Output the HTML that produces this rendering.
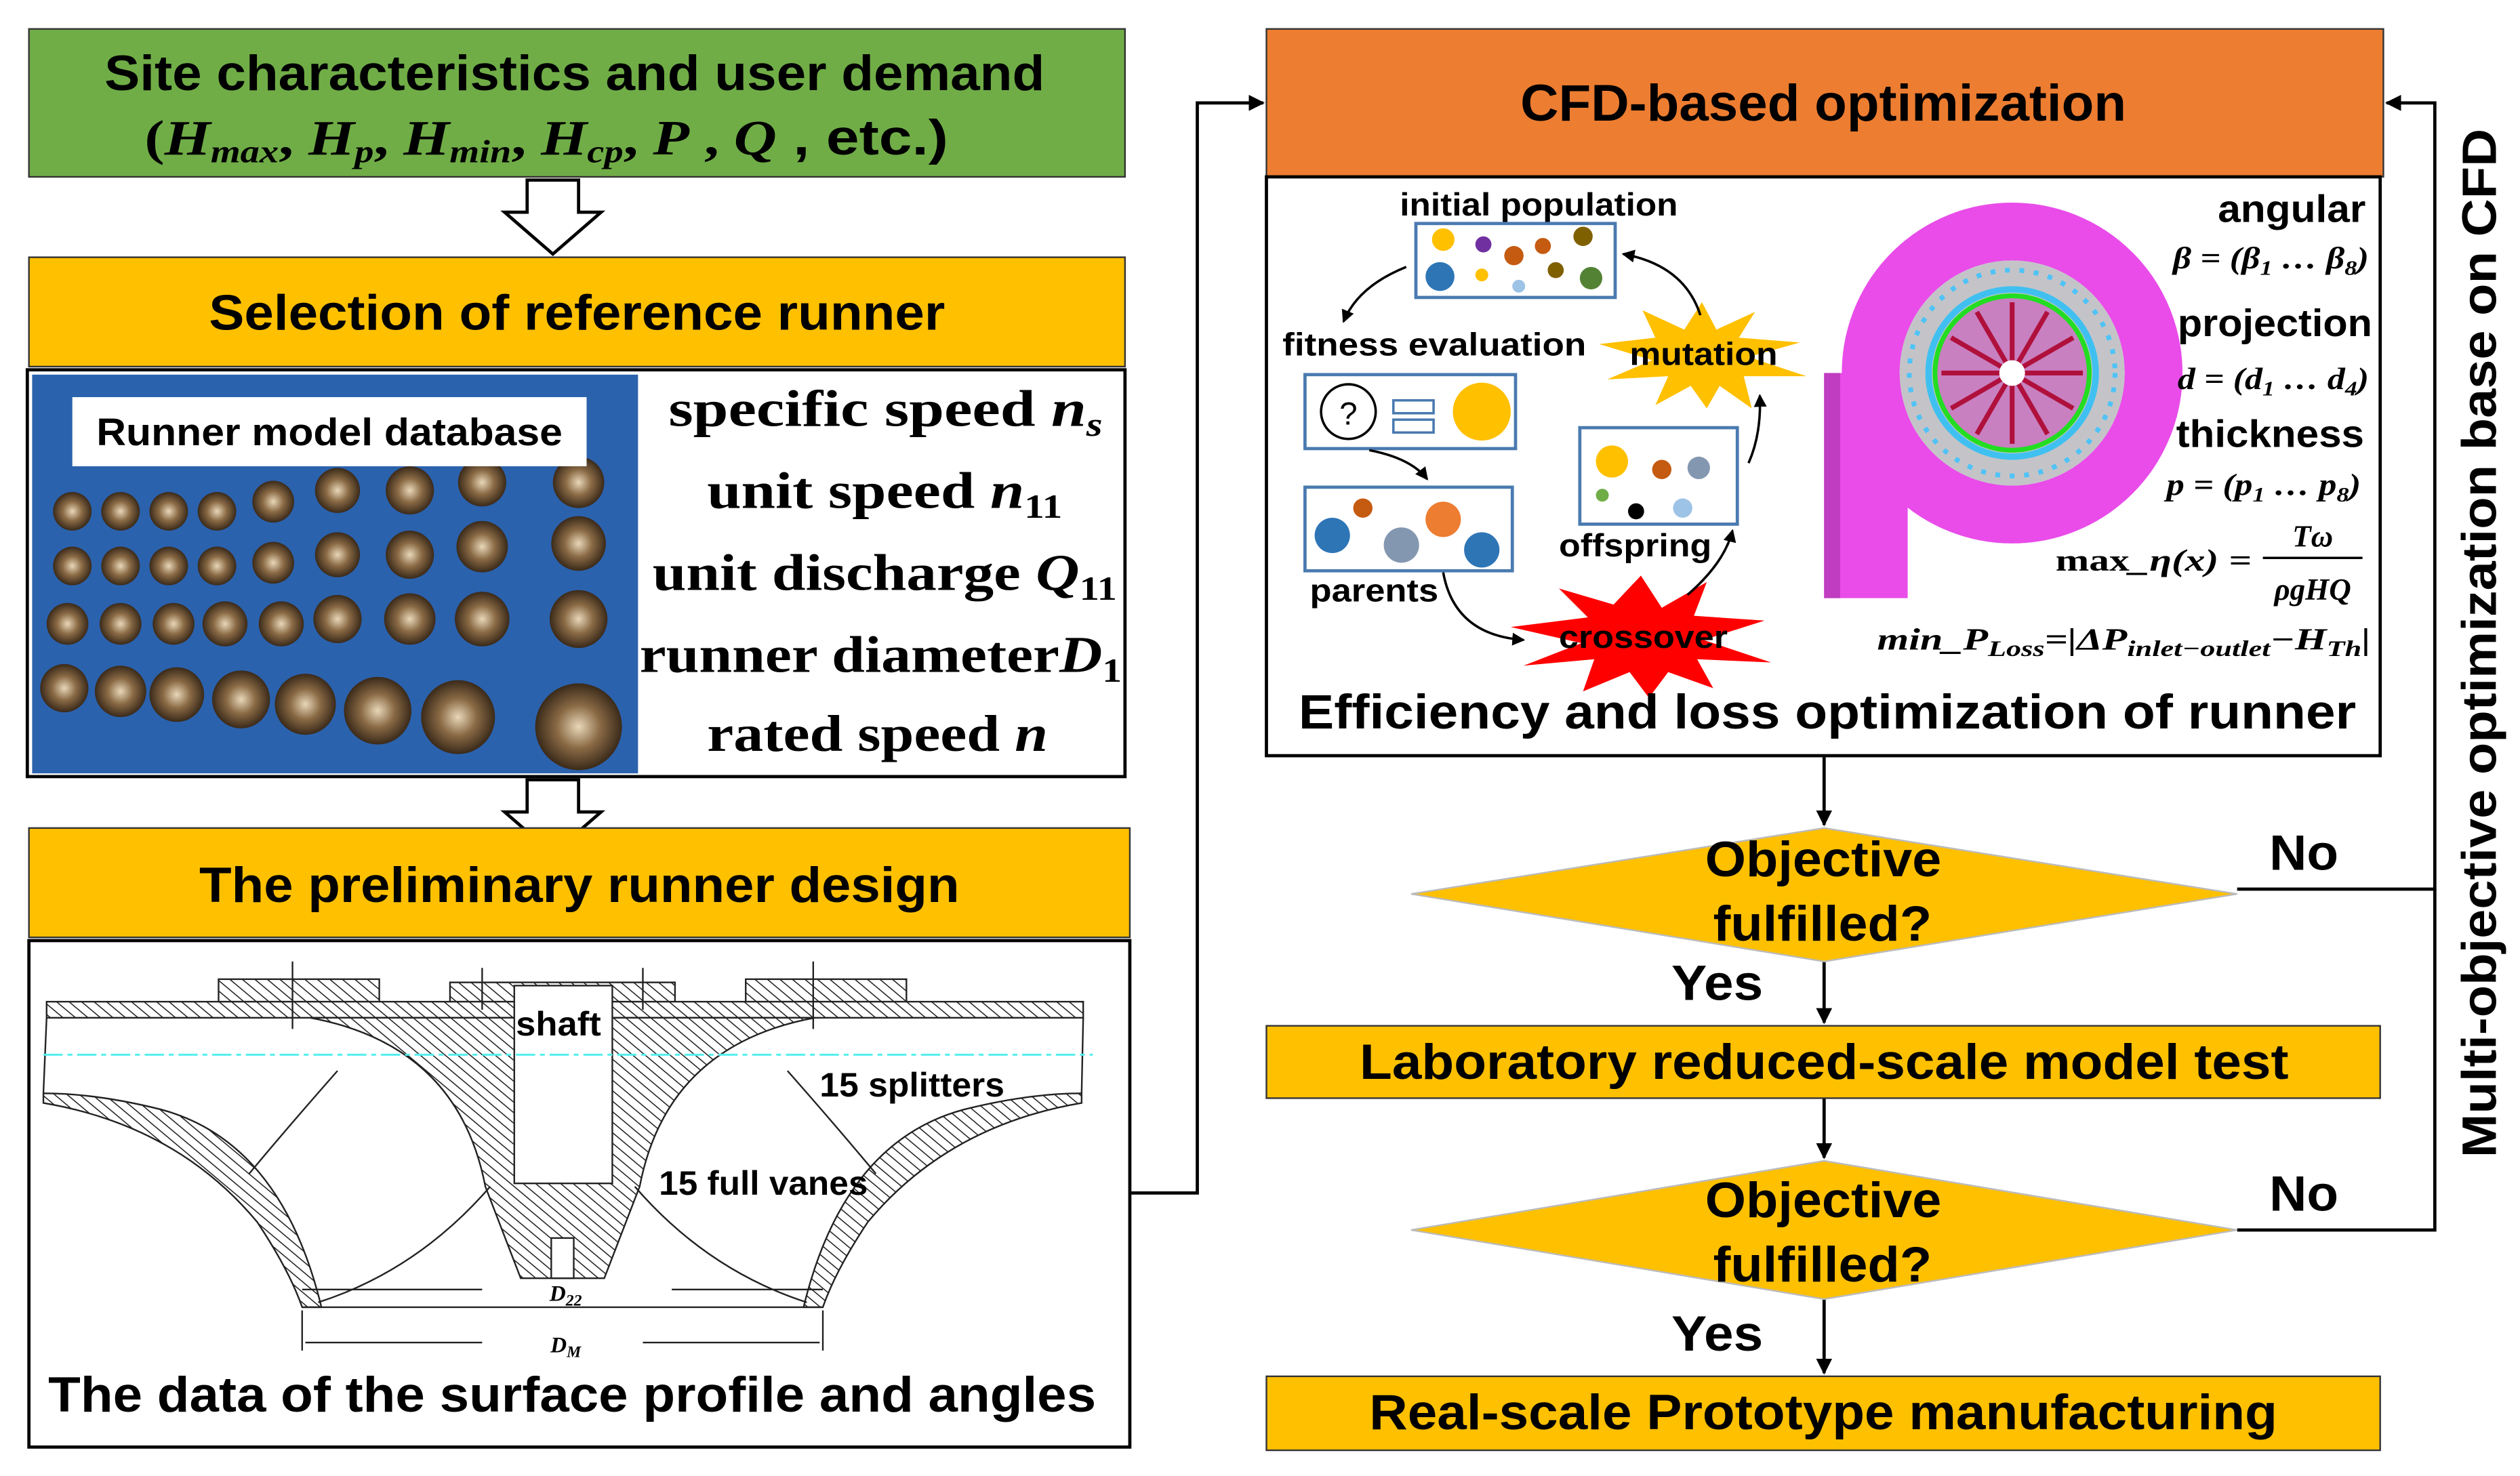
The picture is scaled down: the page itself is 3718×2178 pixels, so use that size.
<!DOCTYPE html>
<html><head><meta charset="utf-8"><style>
html,body{margin:0;padding:0;background:#fff;}
svg{display:block;}
.b{font-family:"Liberation Sans",Arial,sans-serif;font-weight:bold;}
.s{font-family:"Liberation Serif","DejaVu Serif",serif;font-weight:bold;}
.m{font-family:"Liberation Serif","DejaVu Serif",serif;font-style:italic;}
</style></head><body>
<svg width="3718" height="2178" viewBox="0 0 1568 918" preserveAspectRatio="none" xmlns="http://www.w3.org/2000/svg">
<defs>
<pattern id="h" width="5" height="5" patternUnits="userSpaceOnUse" patternTransform="rotate(-50)">
<rect width="5" height="5" fill="#fff"/><line x1="0" y1="0" x2="0" y2="5" stroke="#222" stroke-width="1.3"/></pattern>
<marker id="a" markerWidth="10" markerHeight="10" refX="9" refY="5" orient="auto" markerUnits="userSpaceOnUse"><path d="M0,0 L10,5 L0,10 z" fill="#000"/></marker>
<marker id="a2" markerWidth="8" markerHeight="8" refX="7" refY="4" orient="auto" markerUnits="userSpaceOnUse"><path d="M0,0 L8,4 L0,8 z" fill="#000"/></marker>
<radialGradient id="br"><stop offset="0" stop-color="#e8d7b8"/><stop offset="0.5" stop-color="#8a6a45"/><stop offset="1" stop-color="#3a2a1a"/></radialGradient>
</defs>

<rect x="18" y="18" width="682" height="92" fill="#70ad47" stroke="#333" stroke-width="1"/>
<text x="65" y="56" textLength="585" lengthAdjust="spacingAndGlyphs" class="b" font-size="31">Site characteristics and user demand</text>
<text x="90" y="96" textLength="500" lengthAdjust="spacingAndGlyphs" font-size="31"><tspan class="s">(</tspan><tspan class="m" font-weight="bold">H</tspan><tspan class="m" font-weight="bold" font-size="20" dy="5">max</tspan><tspan class="s" dy="-5">, </tspan><tspan class="m" font-weight="bold">H</tspan><tspan class="m" font-weight="bold" font-size="20" dy="5">p</tspan><tspan class="s" dy="-5">, </tspan><tspan class="m" font-weight="bold">H</tspan><tspan class="m" font-weight="bold" font-size="20" dy="5">min</tspan><tspan class="s" dy="-5">, </tspan><tspan class="m" font-weight="bold">H</tspan><tspan class="m" font-weight="bold" font-size="20" dy="5">cp</tspan><tspan class="s" dy="-5">, </tspan><tspan class="m" font-weight="bold">P</tspan><tspan class="s"> , </tspan><tspan class="m" font-weight="bold">Q</tspan><tspan class="b"> , etc.)</tspan></text>

<polygon points="328,112 360,112 360,132 374,132 344,158 314,132 328,132" fill="#fff" stroke="#000" stroke-width="2"/>

<rect x="18" y="160" width="682" height="68" fill="#ffc000" stroke="#333" stroke-width="1"/>
<text x="130" y="205" textLength="458" lengthAdjust="spacingAndGlyphs" class="b" font-size="31">Selection of reference runner</text>

<rect x="17" y="230" width="683" height="253" fill="#fff" stroke="#000" stroke-width="2"/>
<rect x="20" y="233" width="377" height="248" fill="#2b62ad"/>
<g fill="url(#br)">
<circle cx="45" cy="318" r="12"/><circle cx="75" cy="318" r="12"/><circle cx="105" cy="318" r="12"/><circle cx="135" cy="318" r="12"/><circle cx="170" cy="312" r="13"/><circle cx="210" cy="305" r="14"/><circle cx="255" cy="305" r="15"/><circle cx="300" cy="300" r="15"/><circle cx="360" cy="300" r="16"/>
<circle cx="45" cy="352" r="12"/><circle cx="75" cy="352" r="12"/><circle cx="105" cy="352" r="12"/><circle cx="135" cy="352" r="12"/><circle cx="170" cy="350" r="13"/><circle cx="210" cy="345" r="14"/><circle cx="255" cy="345" r="15"/><circle cx="300" cy="340" r="16"/><circle cx="360" cy="338" r="17"/>
<circle cx="42" cy="388" r="13"/><circle cx="75" cy="388" r="13"/><circle cx="108" cy="388" r="13"/><circle cx="140" cy="388" r="14"/><circle cx="175" cy="388" r="14"/><circle cx="210" cy="385" r="15"/><circle cx="255" cy="385" r="16"/><circle cx="300" cy="385" r="17"/><circle cx="360" cy="385" r="18"/>
<circle cx="40" cy="428" r="15"/><circle cx="75" cy="430" r="16"/><circle cx="110" cy="432" r="17"/><circle cx="150" cy="435" r="18"/><circle cx="190" cy="438" r="19"/><circle cx="235" cy="442" r="21"/><circle cx="285" cy="446" r="23"/><circle cx="360" cy="452" r="27"/>
</g>
<rect x="45" y="247" width="320" height="43" fill="#fff"/>
<text x="60" y="277" textLength="290" lengthAdjust="spacingAndGlyphs" class="b" font-size="24">Runner model database</text>
<g class="s" font-size="32">
<text x="416" y="265" textLength="270" lengthAdjust="spacingAndGlyphs">specific speed <tspan class="m" font-weight="bold">n</tspan><tspan class="m" font-weight="bold" font-size="21" dy="6">s</tspan></text>
<text x="440" y="316" textLength="221" lengthAdjust="spacingAndGlyphs">unit speed <tspan class="m" font-weight="bold">n</tspan><tspan font-size="21" dy="6">11</tspan></text>
<text x="406" y="367" textLength="289" lengthAdjust="spacingAndGlyphs">unit discharge  <tspan class="m" font-weight="bold">Q</tspan><tspan font-size="21" dy="6">11</tspan></text>
<text x="398" y="418" textLength="300" lengthAdjust="spacingAndGlyphs">runner diameter<tspan class="m" font-weight="bold">D</tspan><tspan font-size="21" dy="6">1</tspan></text>
<text x="440" y="467" textLength="212" lengthAdjust="spacingAndGlyphs">rated speed <tspan class="m" font-weight="bold">n</tspan></text>
</g>

<polygon points="328,485 360,485 360,505 374,505 344,531 314,505 328,505" fill="#fff" stroke="#000" stroke-width="2"/>

<rect x="18" y="515" width="685" height="68" fill="#ffc000" stroke="#333" stroke-width="1"/>
<text x="124" y="561" textLength="473" lengthAdjust="spacingAndGlyphs" class="b" font-size="31">The preliminary runner design</text>

<rect x="18" y="585" width="685" height="315" fill="#fff" stroke="#000" stroke-width="2"/>
<g stroke="#222" stroke-width="1">
<rect x="136" y="609" width="100" height="14" fill="url(#h)"/>
<rect x="464" y="609" width="100" height="14" fill="url(#h)"/>
<rect x="280" y="611" width="140" height="12" fill="url(#h)"/>
<rect x="29" y="623" width="645" height="10" fill="url(#h)"/>
<path d="M193,633 Q285,650 302,738 L324,795 L376,795 L398,738 Q415,650 507,633 Z" fill="url(#h)"/>
<rect x="320" y="613" width="61" height="123" fill="#fff"/>
<path d="M27,680 L27,686 Q110,700 160,760 Q180,790 188,813 L200,813 Q175,710 100,690 Q60,680 27,680 Z" fill="url(#h)"/>
<path d="M673,680 L673,686 Q590,700 540,760 Q520,790 512,813 L500,813 Q525,710 600,690 Q640,680 673,680 Z" fill="url(#h)"/>
<rect x="343" y="770" width="14" height="25" fill="#fff"/>
<line x1="29" y1="633" x2="27" y2="680" /><line x1="674" y1="633" x2="673" y2="680"/>
<path d="M210,666 Q180,700 155,730" fill="none"/><path d="M490,666 Q520,700 545,730" fill="none"/>
<path d="M305,738 Q260,790 198,810" fill="none"/><path d="M395,738 Q440,790 502,810" fill="none"/>
<line x1="188" y1="802" x2="300" y2="802"/><line x1="418" y1="802" x2="512" y2="802"/>
<line x1="188" y1="813" x2="512" y2="813"/>
<line x1="188" y1="815" x2="188" y2="840"/><line x1="512" y1="815" x2="512" y2="840"/>
<line x1="190" y1="835" x2="300" y2="835"/><line x1="400" y1="835" x2="510" y2="835"/>
<line x1="182" y1="598" x2="182" y2="640"/><line x1="506" y1="598" x2="506" y2="640"/>
<line x1="300" y1="602" x2="300" y2="628"/><line x1="400" y1="602" x2="400" y2="628"/>
</g>
<line x1="27" y1="656" x2="680" y2="656" stroke="#5ee" stroke-width="1.3" stroke-dasharray="12,3,3,3"/>
<text x="321" y="644" textLength="53" lengthAdjust="spacingAndGlyphs" class="b" font-size="21">shaft</text>
<text x="510" y="682" textLength="115" lengthAdjust="spacingAndGlyphs" class="b" font-size="21">15 splitters</text>
<text x="410" y="743" textLength="130" lengthAdjust="spacingAndGlyphs" class="b" font-size="21">15 full vanes</text>
<text x="352" y="809" text-anchor="middle" class="m" font-weight="bold" font-size="14">D<tspan font-size="10" dy="3">22</tspan></text>
<text x="352" y="841" text-anchor="middle" class="m" font-weight="bold" font-size="14">D<tspan font-size="10" dy="3">M</tspan></text>
<text x="30" y="878" textLength="652" lengthAdjust="spacingAndGlyphs" class="b" font-size="31">The data of the surface profile and angles</text>

<polyline points="703,742 745,742 745,64 786,64" fill="none" stroke="#000" stroke-width="2" marker-end="url(#a)"/>

<rect x="788" y="18" width="695" height="92" fill="#ed7d31" stroke="#333" stroke-width="1"/>
<text x="946" y="75" textLength="377" lengthAdjust="spacingAndGlyphs" class="b" font-size="32">CFD-based optimization</text>
<rect x="788" y="110" width="693" height="360" fill="#fff" stroke="#000" stroke-width="2"/>

<text x="871" y="134" textLength="173" lengthAdjust="spacingAndGlyphs" class="b" font-size="20">initial population</text>
<rect x="881" y="139" width="124" height="46" fill="#fff" stroke="#4a7ab0" stroke-width="2"/>
<circle cx="898" cy="149" r="7" fill="#ffc000"/><circle cx="923" cy="152" r="5" fill="#7030a0"/><circle cx="942" cy="159" r="6" fill="#c55a11"/><circle cx="960" cy="153" r="5" fill="#c55a11"/><circle cx="985" cy="147" r="6" fill="#7f6000"/>
<circle cx="896" cy="172" r="9" fill="#2e75b6"/><circle cx="922" cy="171" r="4" fill="#ffc000"/><circle cx="945" cy="178" r="4" fill="#9dc3e6"/><circle cx="968" cy="168" r="5" fill="#7f6000"/><circle cx="990" cy="173" r="7" fill="#548235"/>
<text x="798" y="221" textLength="189" lengthAdjust="spacingAndGlyphs" class="b" font-size="20">fitness  evaluation</text>
<rect x="812" y="233" width="131" height="46" fill="#fff" stroke="#4a7ab0" stroke-width="2"/>
<circle cx="839" cy="256" r="17" fill="#fff" stroke="#000" stroke-width="1.5"/><text x="839" y="264" text-anchor="middle" font-family="Liberation Sans,sans-serif" font-size="20">?</text>
<rect x="867" y="249" width="25" height="8" fill="#fff" stroke="#4a7ab0" stroke-width="1.5"/><rect x="867" y="261" width="25" height="8" fill="#fff" stroke="#4a7ab0" stroke-width="1.5"/>
<circle cx="922" cy="256" r="18" fill="#ffc000"/>
<rect x="812" y="303" width="129" height="52" fill="#fff" stroke="#4a7ab0" stroke-width="2"/>
<circle cx="829" cy="333" r="11" fill="#2e75b6"/><circle cx="848" cy="316" r="6" fill="#c55a11"/><circle cx="872" cy="339" r="11" fill="#8497b0"/><circle cx="898" cy="323" r="11" fill="#ed7d31"/><circle cx="922" cy="342" r="11" fill="#2e75b6"/>
<text x="815" y="374" textLength="80" lengthAdjust="spacingAndGlyphs" class="b" font-size="20">parents</text>
<rect x="983" y="266" width="98" height="60" fill="#fff" stroke="#4a7ab0" stroke-width="2"/>
<circle cx="1003" cy="287" r="10" fill="#ffc000"/><circle cx="1034" cy="292" r="6" fill="#c55a11"/><circle cx="1057" cy="291" r="7" fill="#8497b0"/><circle cx="997" cy="308" r="4" fill="#70ad47"/><circle cx="1018" cy="318" r="5" fill="#000"/><circle cx="1047" cy="316" r="6" fill="#9dc3e6"/>
<text x="970" y="346" textLength="95" lengthAdjust="spacingAndGlyphs" class="b" font-size="20">offspring</text>
<polygon points="1059,188 1068,205 1092,194 1082,210 1120,213 1088,222 1124,234 1085,234 1090,254 1070,240 1062,254 1052,240 1030,252 1038,234 1000,236 1028,224 995,214 1030,210 1022,193 1048,205" fill="#ffc000"/>
<text x="1014" y="227" textLength="92" lengthAdjust="spacingAndGlyphs" class="b" font-size="20">mutation</text>
<polygon points="1021,358 1034,378 1062,362 1054,383 1098,386 1060,398 1102,412 1056,410 1066,428 1038,418 1026,434 1014,418 985,430 992,410 948,414 984,400 940,390 988,384 970,366 1004,376" fill="#ff0000"/>
<text x="970" y="403" textLength="105" lengthAdjust="spacingAndGlyphs" class="b" font-size="20">crossover</text>
<g fill="none" stroke="#000" stroke-width="1.5">
<path d="M875,166 Q845,178 836,200" marker-end="url(#a2)"/>
<path d="M1058,196 Q1048,165 1010,158" marker-end="url(#a2)"/>
<path d="M852,280 Q878,285 888,298" marker-end="url(#a2)"/>
<path d="M898,356 Q905,395 948,398" marker-end="url(#a2)"/>
<path d="M1050,370 Q1073,350 1078,330" marker-end="url(#a2)"/>
<path d="M1088,288 Q1096,270 1095,246" marker-end="url(#a2)"/>
</g>
<rect x="1135" y="232" width="52" height="140" fill="#e94ce9"/>
<rect x="1135" y="232" width="10" height="140" fill="#c03cc0"/>
<circle cx="1252" cy="232" r="88" fill="none" stroke="#e94ce9" stroke-width="36"/>
<circle cx="1252" cy="232" r="70" fill="#c4c4c8"/>
<circle cx="1252" cy="232" r="64" fill="none" stroke="#4fc3f7" stroke-width="3" stroke-dasharray="3,6"/>
<circle cx="1252" cy="232" r="52" fill="none" stroke="#40c0f0" stroke-width="4"/>
<circle cx="1252" cy="232" r="48" fill="#c880c0" stroke="#22dd22" stroke-width="3"/>
<g stroke="#b0103c" stroke-width="3" transform="translate(0,4)">
<line x1="1252" y1="228" x2="1252" y2="184"/><line x1="1252" y1="228" x2="1290" y2="206"/><line x1="1252" y1="228" x2="1290" y2="250"/><line x1="1252" y1="228" x2="1252" y2="272"/><line x1="1252" y1="228" x2="1214" y2="250"/><line x1="1252" y1="228" x2="1214" y2="206"/>
<line x1="1252" y1="228" x2="1274" y2="190"/><line x1="1252" y1="228" x2="1296" y2="228"/><line x1="1252" y1="228" x2="1274" y2="266"/><line x1="1252" y1="228" x2="1230" y2="266"/><line x1="1252" y1="228" x2="1208" y2="228"/><line x1="1252" y1="228" x2="1230" y2="190"/>
</g>
<circle cx="1252" cy="232" r="8" fill="#fff"/>
<text x="1380" y="138" textLength="92" lengthAdjust="spacingAndGlyphs" class="b" font-size="24">angular</text>
<text x="1352" y="167" textLength="122" lengthAdjust="spacingAndGlyphs" class="m" font-weight="bold" font-size="19">β = (β<tspan font-size="13" dy="4">1</tspan><tspan dy="-4"> … β</tspan><tspan font-size="13" dy="4">8</tspan><tspan dy="-4">)</tspan></text>
<text x="1355" y="209" textLength="121" lengthAdjust="spacingAndGlyphs" class="b" font-size="24">projection</text>
<text x="1355" y="242" textLength="119" lengthAdjust="spacingAndGlyphs" class="m" font-weight="bold" font-size="19">d = (d<tspan font-size="13" dy="4">1</tspan><tspan dy="-4"> … d</tspan><tspan font-size="13" dy="4">4</tspan><tspan dy="-4">)</tspan></text>
<text x="1354" y="278" textLength="117" lengthAdjust="spacingAndGlyphs" class="b" font-size="24">thickness</text>
<text x="1348" y="308" textLength="121" lengthAdjust="spacingAndGlyphs" class="m" font-weight="bold" font-size="19">p = (p<tspan font-size="13" dy="4">1</tspan><tspan dy="-4"> … p</tspan><tspan font-size="13" dy="4">8</tspan><tspan dy="-4">)</tspan></text>
<text x="1279" y="355" textLength="122" lengthAdjust="spacingAndGlyphs" class="m" font-weight="bold" font-size="19"><tspan font-style="normal">max</tspan>_η(x) =</text>
<line x1="1408" y1="347" x2="1470" y2="347" stroke="#000" stroke-width="1.5"/>
<text x="1439" y="340" text-anchor="middle" class="m" font-weight="bold" font-size="19">Tω</text>
<text x="1439" y="373" text-anchor="middle" class="m" font-weight="bold" font-size="19">ρgHQ</text>
<text x="1168" y="404" textLength="307" lengthAdjust="spacingAndGlyphs" class="m" font-weight="bold" font-size="19">min_P<tspan font-size="14" dy="4">Loss</tspan><tspan dy="-4">=|ΔP</tspan><tspan font-size="14" dy="4">inlet−outlet</tspan><tspan dy="-4">−H</tspan><tspan font-size="14" dy="4">Th</tspan><tspan dy="-4">|</tspan></text>
<text x="808" y="453" textLength="658" lengthAdjust="spacingAndGlyphs" class="b" font-size="30">Efficiency and loss optimization of runner</text>

<g stroke="#000" stroke-width="2" fill="none">
<line x1="1135" y1="470" x2="1135" y2="513" marker-end="url(#a)"/>
<line x1="1135" y1="598" x2="1135" y2="636" marker-end="url(#a)"/>
<line x1="1135" y1="683" x2="1135" y2="720" marker-end="url(#a)"/>
<line x1="1135" y1="808" x2="1135" y2="854" marker-end="url(#a)"/>
<polyline points="1392,553 1515,553 1515,64 1485,64" marker-end="url(#a)"/>
<polyline points="1392,765 1515,765 1515,553"/>
</g>
<polygon points="878,556 1135,515 1392,556 1135,598" fill="#ffc000" stroke="#bbb" stroke-width="1"/>
<text x="1061" y="545" textLength="147" lengthAdjust="spacingAndGlyphs" class="b" font-size="31">Objective</text>
<text x="1066" y="585" textLength="136" lengthAdjust="spacingAndGlyphs" class="b" font-size="31">fulfilled?</text>
<text x="1040" y="622" textLength="57" lengthAdjust="spacingAndGlyphs" class="b" font-size="31">Yes</text>
<text x="1412" y="541" textLength="43" lengthAdjust="spacingAndGlyphs" class="b" font-size="31">No</text>
<rect x="788" y="638" width="693" height="45" fill="#ffc000" stroke="#333" stroke-width="1"/>
<text x="846" y="671" textLength="578" lengthAdjust="spacingAndGlyphs" class="b" font-size="31">Laboratory reduced-scale model test</text>
<polygon points="878,765 1135,722 1392,765 1135,808" fill="#ffc000" stroke="#bbb" stroke-width="1"/>
<text x="1061" y="757" textLength="147" lengthAdjust="spacingAndGlyphs" class="b" font-size="31">Objective</text>
<text x="1066" y="797" textLength="136" lengthAdjust="spacingAndGlyphs" class="b" font-size="31">fulfilled?</text>
<text x="1040" y="840" textLength="57" lengthAdjust="spacingAndGlyphs" class="b" font-size="31">Yes</text>
<text x="1412" y="753" textLength="43" lengthAdjust="spacingAndGlyphs" class="b" font-size="31">No</text>
<rect x="788" y="856" width="693" height="46" fill="#ffc000" stroke="#333" stroke-width="1"/>
<text x="852" y="889" textLength="565" lengthAdjust="spacingAndGlyphs" class="b" font-size="31">Real-scale Prototype manufacturing</text>
<text transform="translate(1553,720) rotate(-90)" textLength="640" lengthAdjust="spacingAndGlyphs" class="b" font-size="30">Multi-objective optimization base on CFD</text>
</svg>
</body></html>
